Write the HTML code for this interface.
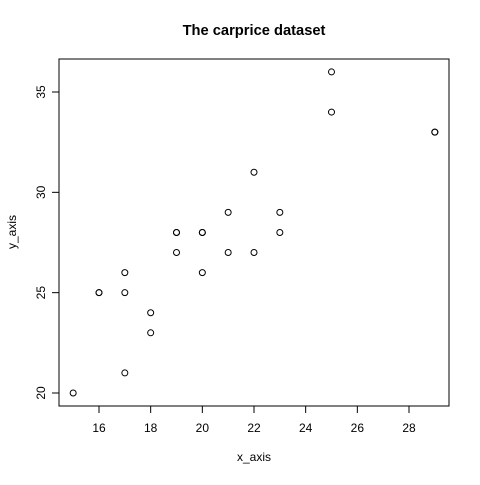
<!DOCTYPE html>
<html><head><meta charset="utf-8"><style>
body{margin:0;background:#fff}
svg{font-family:"Liberation Sans",sans-serif}
</style></head><body>
<svg id="c" width="480" height="480">
<rect width="480" height="480" fill="#fff"/>
<text x="254" y="35" text-anchor="middle" font-weight="bold" font-size="14.7">The carprice dataset</text>
<rect x="59" y="59" width="390" height="347" fill="none" stroke="#000"/>
<text x="254" y="461" text-anchor="middle" font-size="12">x_axis</text>
<text transform="translate(16,232) rotate(-90)" text-anchor="middle" font-size="12">y_axis</text>
<g id="g"></g>
</svg>
<script>
const xs=[15,16,16,17,17,17,18,18,19,19,19,20,20,20,21,21,22,22,23,23,25,25,29,29];
const ys=[20,25,25,26,25,21,24,23,28,28,27,28,28,26,29,27,31,27,29,28,36,34,33,33];
const xTicks=[16,18,20,22,24,26,28];
const yTicks=[20,25,30,35];
const X=v=>99+(v-16)*(310/12);
const Y=v=>393-(v-20)*(301/15);
const g=document.getElementById('g');
const ns='http://www.w3.org/2000/svg';
function mk(t,a){const e=document.createElementNS(ns,t);for(const k in a)e.setAttribute(k,a[k]);g.appendChild(e);return e;}
let ax=mk('line',{x1:X(16),x2:X(28),y1:406,y2:406,stroke:'#000'});


xTicks.forEach(t=>{
 const l=mk('line',{x1:X(t),x2:X(t),y1:406,y2:413,stroke:'#000'});
 
 
 const s=mk('text',{x:X(t),y:432,'text-anchor':'middle','font-size':12});s.textContent=t;
 
 
});
let ay=mk('line',{x1:59,x2:59,y1:Y(20),y2:Y(35),stroke:'#000'});


yTicks.forEach(t=>{
 const l=mk('line',{x1:52,x2:59,y1:Y(t),y2:Y(t),stroke:'#000'});
 
 
 const s=mk('text',{transform:`translate(45,${Y(t)}) rotate(-90)`,'text-anchor':'middle','font-size':12});s.textContent=t;
 
 
});
xs.forEach((x,i)=>{
 const c=mk('circle',{cx:X(x),cy:Y(ys[i]),r:3,fill:'none',stroke:'#000','stroke-width':1});
 
 
});
</script>
</body></html>
